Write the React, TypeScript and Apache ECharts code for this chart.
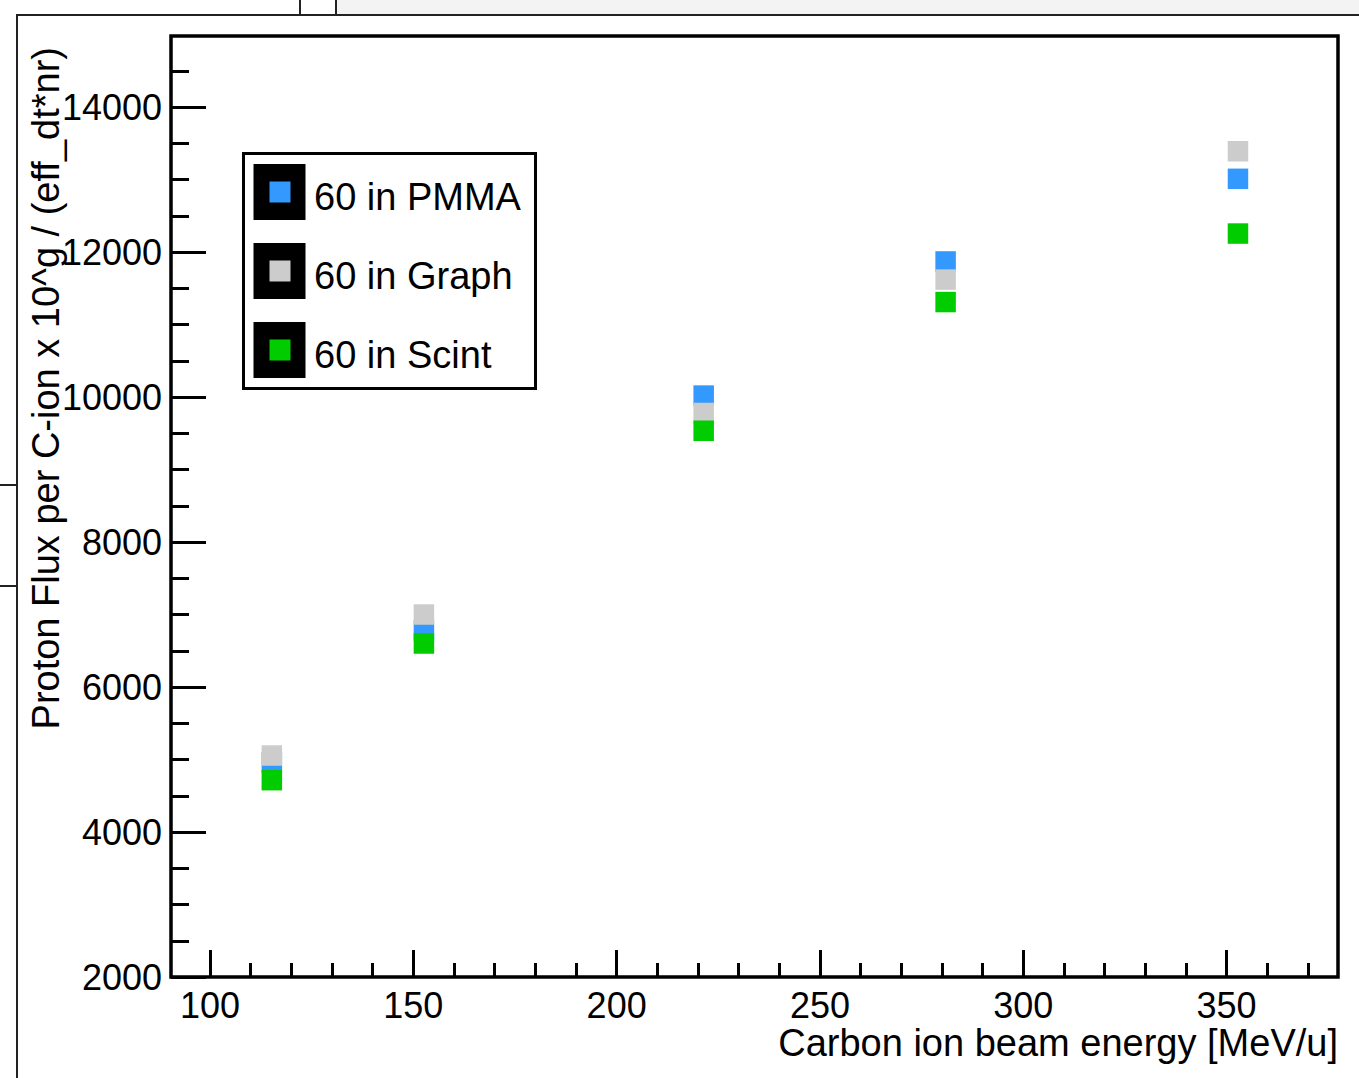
import React, { useEffect, useRef } from "react";
import * as echarts from "echarts";

const FONT = '"Liberation Sans", Helvetica, Arial, sans-serif';

// ---- data ----
const energies = [115.2, 152.6, 221.4, 280.9, 352.8];
const pmmaFlux = [4960, 6780, 10020, 11870, 13010];
const graphFlux = [5055, 7000, 9780, 11620, 13390];
const scintFlux = [4715, 6600, 9535, 11310, 12255];

const seriesNames = ["60 in PMMA", "60 in Graph", "60 in Scint"];
const seriesColors = ["#3399ff", "#cccccc", "#00cc00"];

const xMajorTicks = [100, 150, 200, 250, 300, 350];
const xMinorTicks = [110, 120, 130, 140, 160, 170, 180, 190, 210, 220, 230, 240, 260, 270, 280, 290, 310, 320, 330, 340, 360, 370];
const yMajorTicks = [2000, 4000, 6000, 8000, 10000, 12000, 14000];
const yMinorTicks = [2500, 3000, 3500, 4500, 5000, 5500, 6500, 7000, 7500, 8500, 9000, 9500, 10500, 11000, 11500, 12500, 13000, 13500, 14500];

const X_MIN = 90.4;
const X_MAX = 377.4;
const Y_MIN = 2000;
const Y_MAX = 14980;

const xTitle = "Carbon ion beam energy [MeV/u]";
const yTitle = "Proton Flux per C-ion x 10^g / (eff_dt*nr)";

function pairs(xs: number[], ys: number[]) {
  return xs.map((x, i) => [x, ys[i]]);
}

export default function App() {
  const ref = useRef<HTMLDivElement>(null);

  useEffect(() => {
    const chart = echarts.init(ref.current!, null, { renderer: "svg" });

    const axisCommon = {
      type: "value",
      splitLine: { show: false },
      axisLine: { show: false, onZero: false },
    };

    const legendRows = seriesNames.map((name, i) => {
      const cy = 192 + i * 79;
      return [
        {
          type: "rect",
          z: 100,
          shape: { x: 253.5, y: cy - 28, width: 52, height: 56 },
          style: { fill: "#000000" },
        },
        {
          type: "rect",
          z: 101,
          shape: { x: 269.5, y: cy - 10.5, width: 21, height: 21 },
          style: { fill: seriesColors[i] },
        },
        {
          type: "text",
          z: 101,
          x: 314,
          y: cy + 4.5,
          style: {
            text: name,
            fontSize: 38,
            fontFamily: FONT,
            fill: "#000000",
            align: "left",
            verticalAlign: "middle",
          },
        },
      ];
    }).flat();

    chart.setOption({
      animation: false,
      backgroundColor: "#ffffff",
      grid: {
        left: 171,
        top: 36,
        width: 1167,
        height: 941,
        show: true,
        borderColor: "#000000",
        borderWidth: 3.5,
        backgroundColor: "transparent",
      },
      xAxis: [
        {
          ...axisCommon,
          min: X_MIN,
          max: X_MAX,
          position: "bottom",
          axisTick: {
            show: true,
            inside: true,
            length: 27,
            customValues: xMajorTicks,
            lineStyle: { color: "#000000", width: 3 },
          },
          axisLabel: {
            show: true,
            customValues: xMajorTicks,
            formatter: (v: number) => String(v),
            margin: 14,
            lineHeight: 28,
            fontSize: 36,
            fontFamily: FONT,
            color: "#000000",
          },
        },
        {
          ...axisCommon,
          min: X_MIN,
          max: X_MAX,
          position: "bottom",
          axisTick: {
            show: true,
            inside: true,
            length: 14,
            customValues: xMinorTicks,
            lineStyle: { color: "#000000", width: 3 },
          },
          axisLabel: { show: false },
        },
      ],
      yAxis: [
        {
          ...axisCommon,
          min: Y_MIN,
          max: Y_MAX,
          position: "left",
          axisTick: {
            show: true,
            inside: true,
            length: 35,
            customValues: yMajorTicks,
            lineStyle: { color: "#000000", width: 3 },
          },
          axisLabel: {
            show: true,
            customValues: yMajorTicks,
            formatter: (v: number) => String(v),
            margin: 9,
            fontSize: 36,
            fontFamily: FONT,
            color: "#000000",
          },
        },
        {
          ...axisCommon,
          min: Y_MIN,
          max: Y_MAX,
          position: "left",
          offset: 0,
          axisTick: {
            show: true,
            inside: true,
            length: 18,
            customValues: yMinorTicks,
            lineStyle: { color: "#000000", width: 3 },
          },
          axisLabel: { show: false },
        },
      ],
      legend: { show: false },
      series: [
        {
          name: seriesNames[0],
          type: "scatter",
          xAxisIndex: 0,
          yAxisIndex: 0,
          symbol: "rect",
          symbolSize: 20.5,
          itemStyle: { color: seriesColors[0], opacity: 1 },
          data: pairs(energies, pmmaFlux),
        },
        {
          name: seriesNames[1],
          type: "scatter",
          xAxisIndex: 0,
          yAxisIndex: 0,
          symbol: "rect",
          symbolSize: 20.5,
          itemStyle: { color: seriesColors[1], opacity: 1 },
          data: pairs(energies, graphFlux),
        },
        {
          name: seriesNames[2],
          type: "scatter",
          xAxisIndex: 0,
          yAxisIndex: 0,
          symbol: "rect",
          symbolSize: 20.5,
          itemStyle: { color: seriesColors[2], opacity: 1 },
          data: pairs(energies, scintFlux),
        },
      ],
      graphic: [
        // background screenshot remnants
        {
          type: "rect",
          z: 1,
          shape: { x: 337, y: 0, width: 1022, height: 14 },
          style: { fill: "#f3f3f3" },
        },
        {
          type: "line",
          z: 2,
          shape: { x1: 17, y1: 15, x2: 1359, y2: 15 },
          style: { stroke: "#222222", lineWidth: 2 },
        },
        {
          type: "line",
          z: 2,
          shape: { x1: 17, y1: 14, x2: 17, y2: 1078 },
          style: { stroke: "#222222", lineWidth: 2 },
        },
        {
          type: "line",
          z: 2,
          shape: { x1: 300, y1: 0, x2: 300, y2: 15 },
          style: { stroke: "#222222", lineWidth: 2 },
        },
        {
          type: "line",
          z: 2,
          shape: { x1: 336, y1: 0, x2: 336, y2: 15 },
          style: { stroke: "#222222", lineWidth: 2 },
        },
        {
          type: "line",
          z: 2,
          shape: { x1: 0, y1: 485, x2: 17, y2: 485 },
          style: { stroke: "#222222", lineWidth: 2 },
        },
        {
          type: "line",
          z: 2,
          shape: { x1: 0, y1: 586, x2: 17, y2: 586 },
          style: { stroke: "#222222", lineWidth: 2 },
        },
        // axis titles
        {
          type: "text",
          x: 1338,
          y: 1043,
          style: {
            text: xTitle,
            fontSize: 38,
            lineHeight: 30,
            fontFamily: FONT,
            fill: "#000000",
            align: "right",
            verticalAlign: "middle",
          },
        },
        {
          type: "text",
          x: 45.5,
          y: 47,
          rotation: Math.PI / 2,
          style: {
            text: yTitle,
            fontSize: 38,
            fontFamily: FONT,
            fill: "#000000",
            align: "right",
            verticalAlign: "middle",
          },
        },
        // legend box
        {
          type: "rect",
          z: 99,
          shape: { x: 243.5, y: 153.5, width: 292, height: 235 },
          style: { fill: "#ffffff", stroke: "#000000", lineWidth: 3 },
        },
        ...legendRows,
      ],
    });

    return () => chart.dispose();
  }, []);

  return (
    <div
      ref={ref}
      style={{
        position: "absolute",
        left: 0,
        top: 0,
        width: 1359,
        height: 1078,
        background: "#ffffff",
      }}
    />
  );
}
